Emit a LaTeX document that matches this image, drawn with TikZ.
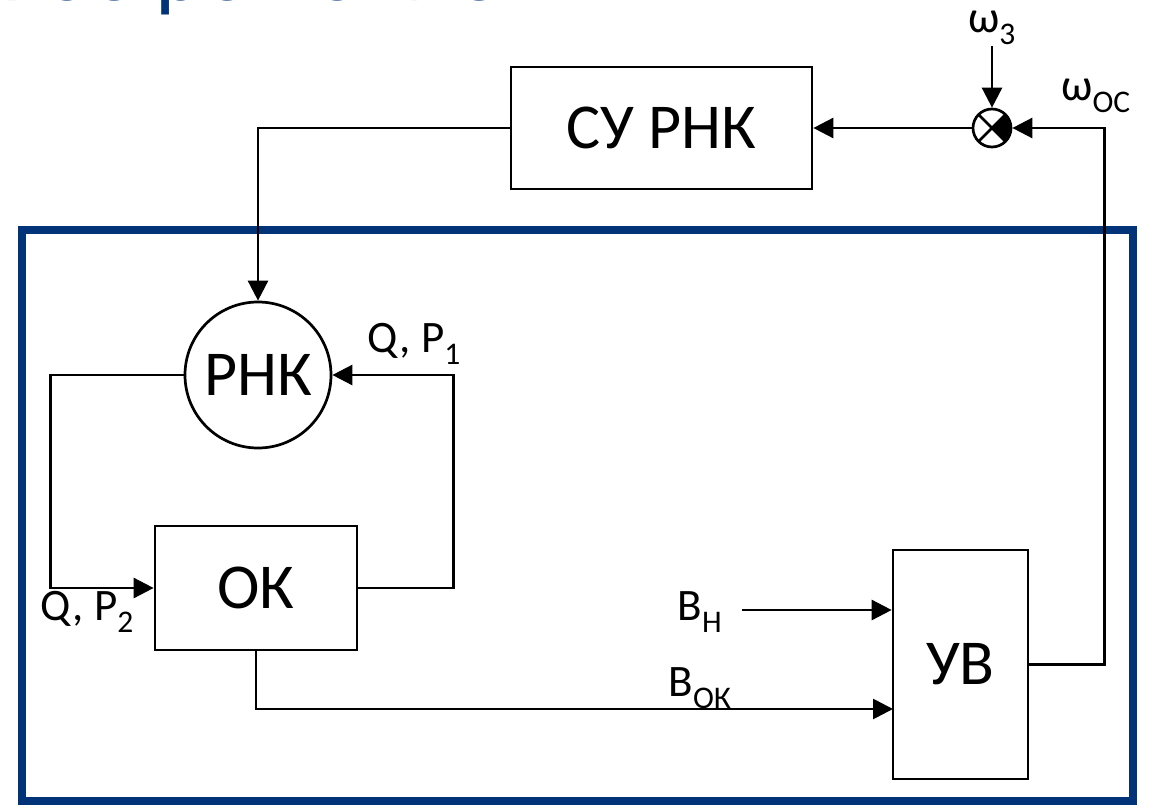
\documentclass[tikz,border=0pt]{standalone}
\usepackage{fontspec}
\setmainfont{Carlito}
\usetikzlibrary{arrows.meta}
\definecolor{frameblue}{RGB}{0,51,120}
\begin{document}
\begin{tikzpicture}[x=1pt,y=-1pt,
  ln/.style={line width=2.7pt},
  conn/.style={draw, line width=2.7pt, -{Triangle[length=20pt,width=20pt]}},
  box/.style={draw, line width=2.7pt, inner sep=0pt, font=\fontsize{64}{70}\selectfont},
  lbl/.style={inner sep=1pt, font=\fontsize{45}{50}\selectfont}]
\path[use as bounding box] (0,0) rectangle (1153,810);
\clip (0,0) rectangle (1153,810);
% cropped title
\node[anchor=base east, inner sep=0pt, text=frameblue, font=\fontsize{90}{100}\selectfont] (title) at (500,1) {Техническое решение};
% frame
\draw[frameblue, line width=8pt] (22,230) rectangle (1133,801);
% blocks
\node[box, minimum width=301pt, minimum height=122pt] (cy) at (661.5,128) {СУ РНК};
\node[box, circle, minimum size=146pt] (rnk) at (258,375) {РНК};
\node[box, minimum width=202pt, minimum height=124pt] (ok) at (256,588) {ОК};
\node[box, minimum width=135pt, minimum height=229pt] (uv) at (960.5,664.5) {УВ};
\node[draw, circle, line width=2.7pt, minimum size=38pt, inner sep=0pt] (sum) at (992,128) {};
\fill (sum.center) -- ++(45:19pt) arc[start angle=45, end angle=-45, radius=19pt] -- cycle;
\draw[ln] (sum.center) ++(45:19pt) -- ++(225:38pt);
\draw[ln] (sum.center) ++(135:19pt) -- ++(-45:38pt);
% labels
\node[lbl, anchor=south] (w3) at (992,46) {ω\textsubscript{3}};
\node[lbl] (woc) at (1096,96) {ω\textsubscript{ОС}};
\node[lbl] (qp1) at (414,344) {Q, P\textsubscript{1}};
\node[lbl] (qp2) at (87,612) {Q, P\textsubscript{2}};
\node[lbl] (bn) at (700,612) {В\textsubscript{Н}};
\node[lbl] (bok) at (700,688) {В\textsubscript{ОК}};
\coordinate (bnstart) at (742,610);
\coordinate (bokend) at (893,709);
% connectors
\draw[conn] (w3.south) -- (sum.north);
\draw[conn] (sum.west) -- (cy.east);
\draw[conn] (cy.west) -| (rnk.north);
\draw[conn] (rnk.west) -- ++(-133,0) |- (ok.west);
\draw[conn] (ok.east) -- ++(95,0) |- (rnk.east);
\draw[conn] (ok.south) |- (bokend);
\draw[conn] (bnstart) -- (bnstart -| uv.west);
\draw[conn] (uv.east) -- ++(75,0) |- (sum.east);
\end{tikzpicture}
\end{document}
